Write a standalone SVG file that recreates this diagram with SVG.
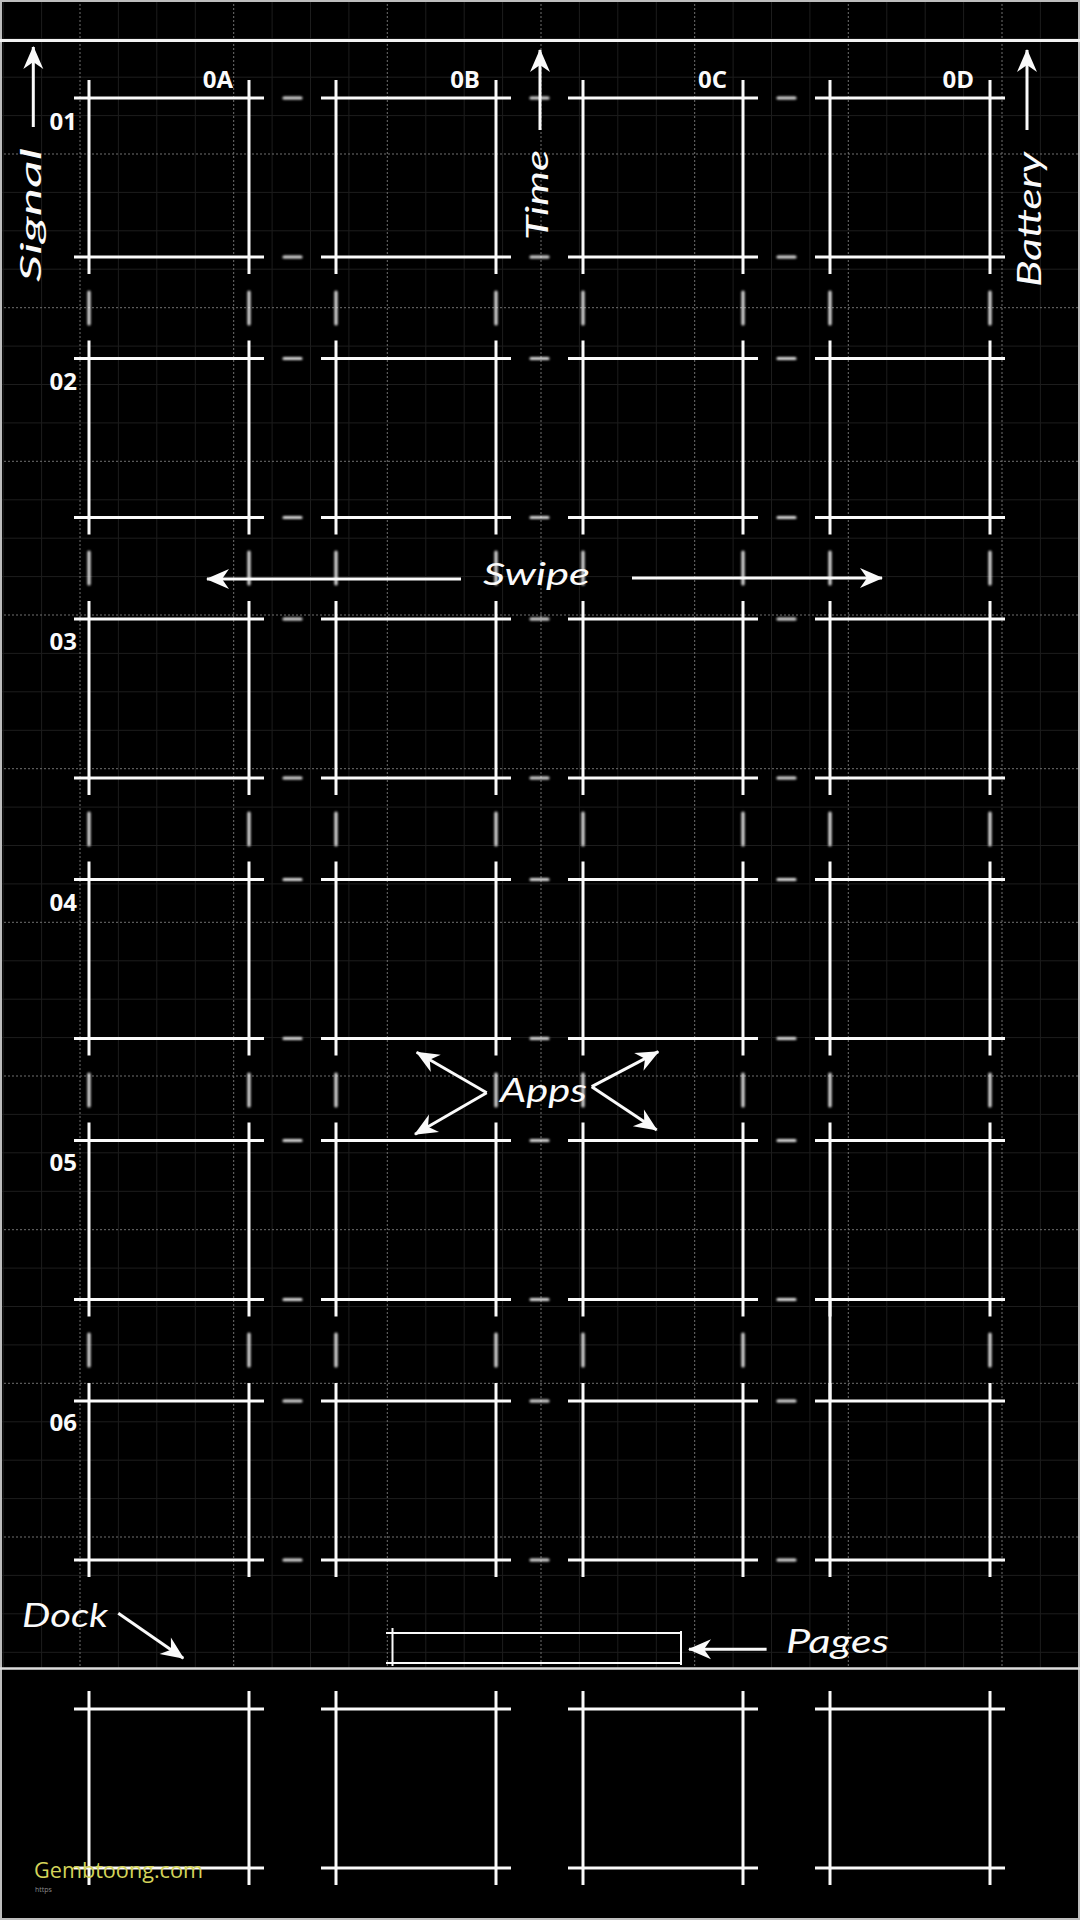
<svg xmlns="http://www.w3.org/2000/svg" xmlns:xlink="http://www.w3.org/1999/xlink" width="1080" height="1920" viewBox="0 0 1080 1920">
<style>
.bg{fill:#000}
.minor{stroke:#1d1d1d;stroke-width:1;fill:none}
.major{stroke:#707070;stroke-width:1;stroke-dasharray:2 2;fill:none}
.frame{stroke:#bdbdbd;stroke-width:2;fill:none}
.rule{stroke:#f2f2f2;stroke-width:3;fill:none}
.box{stroke:#fafafa;stroke-width:3;fill:none}
.gap{stroke:#f4f4f4;stroke-width:3.2;stroke-linecap:round;fill:none;opacity:0.9}
.conn{stroke:#fafafa;stroke-width:3;fill:none}
.lbl{font-family:"Open Sans","DejaVu Sans",sans-serif;font-weight:700;font-size:24px;fill:#fafafa}
.hand{font-family:"Lato","DejaVu Sans",sans-serif;font-style:italic;fill:#fafafa}
.wm{font-family:"Open Sans","DejaVu Sans",sans-serif;font-size:21px;fill:#d4d45a}
</style>
<defs>
<path id="box" d="M-15 0H175M-15 159H175M0 -18V176M160 -18V176"/>
<marker id="ah" viewBox="-24 -12 26 24" refX="0" refY="0" markerWidth="26" markerHeight="24" markerUnits="userSpaceOnUse" orient="auto">
<path d="M1 0L-22 -10L-15 0L-22 10Z" fill="#fafafa"/>
</marker>
<filter id="soft" x="-20%" y="-20%" width="140%" height="140%"><feGaussianBlur stdDeviation="1.2"/></filter>
</defs>
<rect class="bg" x="0" y="0" width="1080" height="1920"/>
<g id="grid">
<path class="minor" d="M3.2 0V1668M41.6 0V1668M118.4 0V1668M156.8 0V1668M195.3 0V1668M272.1 0V1668M310.5 0V1668M348.9 0V1668M425.8 0V1668M464.2 0V1668M502.6 0V1668M579.4 0V1668M617.8 0V1668M656.3 0V1668M733.1 0V1668M771.5 0V1668M809.9 0V1668M886.8 0V1668M925.2 0V1668M963.6 0V1668M1040.4 0V1668M0 38.8H1080M0 77.2H1080M0 115.6H1080M0 192.4H1080M0 230.8H1080M0 269.2H1080M0 346.1H1080M0 384.5H1080M0 422.9H1080M0 499.8H1080M0 538.2H1080M0 576.6H1080M0 653.4H1080M0 691.8H1080M0 730.3H1080M0 807.1H1080M0 845.5H1080M0 883.9H1080M0 960.8H1080M0 999.2H1080M0 1037.6H1080M0 1114.4H1080M0 1152.8H1080M0 1191.3H1080M0 1268.1H1080M0 1306.5H1080M0 1344.9H1080M0 1421.8H1080M0 1460.2H1080M0 1498.6H1080M0 1575.4H1080M0 1613.8H1080M0 1652.3H1080"/>
<path class="major" d="M80 0V1668M233.7 0V1668M387.3 0V1668M541 0V1668M694.7 0V1668M848.3 0V1668M1002 0V1668M0 154H1080M0 307.7H1080M0 461.3H1080M0 615H1080M0 768.7H1080M0 922.3H1080M0 1076H1080M0 1229.7H1080M0 1383.3H1080M0 1537H1080"/>
</g>
<g id="frame">
<rect class="frame" x="1" y="1" width="1078" height="1918"/>
<path class="rule" d="M0 40.5H1080"/>
<path class="rule" style="stroke:#dcdcdc;stroke-width:2.5" d="M0 1668.5H1080"/>
</g>
<g id="column-labels">
<text class="lbl" x="233" y="88" text-anchor="end">0A</text>
<text class="lbl" x="480" y="88" text-anchor="end">0B</text>
<text class="lbl" x="727" y="88" text-anchor="end">0C</text>
<text class="lbl" x="974" y="88" text-anchor="end">0D</text>
</g>
<g id="row-labels">
<text class="lbl" x="77" y="130" text-anchor="end">01</text>
<text class="lbl" x="77" y="390" text-anchor="end">02</text>
<text class="lbl" x="77" y="650" text-anchor="end">03</text>
<text class="lbl" x="77" y="911" text-anchor="end">04</text>
<text class="lbl" x="77" y="1171" text-anchor="end">05</text>
<text class="lbl" x="77" y="1431" text-anchor="end">06</text>
</g>
<g id="app-01-0A"><use href="#box" class="box" x="89" y="98"/></g>
<g id="app-01-0B"><use href="#box" class="box" x="336" y="98"/></g>
<g id="app-01-0C"><use href="#box" class="box" x="583" y="98"/></g>
<g id="app-01-0D"><use href="#box" class="box" x="830" y="98"/></g>
<g id="app-02-0A"><use href="#box" class="box" x="89" y="358.5"/></g>
<g id="app-02-0B"><use href="#box" class="box" x="336" y="358.5"/></g>
<g id="app-02-0C"><use href="#box" class="box" x="583" y="358.5"/></g>
<g id="app-02-0D"><use href="#box" class="box" x="830" y="358.5"/></g>
<g id="app-03-0A"><use href="#box" class="box" x="89" y="619"/></g>
<g id="app-03-0B"><use href="#box" class="box" x="336" y="619"/></g>
<g id="app-03-0C"><use href="#box" class="box" x="583" y="619"/></g>
<g id="app-03-0D"><use href="#box" class="box" x="830" y="619"/></g>
<g id="app-04-0A"><use href="#box" class="box" x="89" y="879.5"/></g>
<g id="app-04-0B"><use href="#box" class="box" x="336" y="879.5"/></g>
<g id="app-04-0C"><use href="#box" class="box" x="583" y="879.5"/></g>
<g id="app-04-0D"><use href="#box" class="box" x="830" y="879.5"/></g>
<g id="app-05-0A"><use href="#box" class="box" x="89" y="1140.5"/></g>
<g id="app-05-0B"><use href="#box" class="box" x="336" y="1140.5"/></g>
<g id="app-05-0C"><use href="#box" class="box" x="583" y="1140.5"/></g>
<g id="app-05-0D"><use href="#box" class="box" x="830" y="1140.5"/></g>
<g id="app-06-0A"><use href="#box" class="box" x="89" y="1401"/></g>
<g id="app-06-0B"><use href="#box" class="box" x="336" y="1401"/></g>
<g id="app-06-0C"><use href="#box" class="box" x="583" y="1401"/></g>
<g id="app-06-0D"><use href="#box" class="box" x="830" y="1401"/></g>
<g id="dock-1"><use href="#box" class="box" x="89" y="1709"/></g>
<g id="dock-2"><use href="#box" class="box" x="336" y="1709"/></g>
<g id="dock-3"><use href="#box" class="box" x="583" y="1709"/></g>
<g id="dock-4"><use href="#box" class="box" x="830" y="1709"/></g>
<g id="gap-marks">
<path class="gap" filter="url(#soft)" d="M284 98H301M531 98H548M778 98H795M284 257H301M531 257H548M778 257H795M284 358.5H301M531 358.5H548M778 358.5H795M284 517.5H301M531 517.5H548M778 517.5H795M284 619H301M531 619H548M778 619H795M284 778H301M531 778H548M778 778H795M284 879.5H301M531 879.5H548M778 879.5H795M284 1038.5H301M531 1038.5H548M778 1038.5H795M284 1140.5H301M531 1140.5H548M778 1140.5H795M284 1299.5H301M531 1299.5H548M778 1299.5H795M284 1401H301M531 1401H548M778 1401H795M284 1560H301M531 1560H548M778 1560H795"/>
<path class="gap" filter="url(#soft)" d="M89 292V324M249 292V324M336 292V324M496 292V324M583 292V324M743 292V324M830 292V324M990 292V324M89 552V584M249 552V584M336 552V584M496 552V584M583 552V584M743 552V584M830 552V584M990 552V584M89 813V845M249 813V845M336 813V845M496 813V845M583 813V845M743 813V845M830 813V845M990 813V845M89 1074V1106M249 1074V1106M336 1074V1106M496 1074V1106M583 1074V1106M743 1074V1106M830 1074V1106M990 1074V1106M89 1334V1366M249 1334V1366M336 1334V1366M496 1334V1366M583 1334V1366M743 1334V1366M990 1334V1366"/>
<path class="box" d="M830 1299.5V1401"/>
</g>
<g id="pages-indicator">
<path class="box" style="stroke-width:2" d="M386 1633H681M386 1663H681M392.5 1628V1666M681 1631V1665"/>
</g>
<g id="connectors">
<path class="conn" marker-end="url(#ah)" d="M33.3 127V47"/>
<path class="conn" marker-end="url(#ah)" d="M540 130V50"/>
<path class="conn" marker-end="url(#ah)" d="M1027 130V50"/>
<path class="conn" marker-end="url(#ah)" d="M461 579H207"/>
<path class="conn" marker-end="url(#ah)" d="M632 578H882"/>
<path class="conn" marker-end="url(#ah)" d="M486.7 1092.7L416.7 1052.3"/>
<path class="conn" marker-end="url(#ah)" d="M486.7 1092.7L415 1134.3"/>
<path class="conn" marker-end="url(#ah)" d="M591.7 1086.7L658.3 1051.7"/>
<path class="conn" marker-end="url(#ah)" d="M591.7 1086.7L656.7 1130"/>
<path class="conn" marker-end="url(#ah)" d="M118.3 1613.3L183.3 1658.3"/>
<path class="conn" marker-end="url(#ah)" d="M766.6 1649.3H689"/>
</g>
<g id="annotations">
<text class="hand" font-size="28" transform="translate(41 282) rotate(-90)" textLength="134" lengthAdjust="spacingAndGlyphs">Signal</text>
<text class="hand" font-size="30" transform="translate(548 240) rotate(-90)" textLength="90" lengthAdjust="spacingAndGlyphs">Time</text>
<text class="hand" font-size="33" transform="translate(1041 287) rotate(-90)" textLength="135" lengthAdjust="spacingAndGlyphs">Battery</text>
<text class="hand" font-size="30" x="483" y="585" textLength="107" lengthAdjust="spacingAndGlyphs">Swipe</text>
<text class="hand" font-size="32" x="500" y="1102" textLength="87" lengthAdjust="spacingAndGlyphs">Apps</text>
<text class="hand" font-size="32" x="22" y="1627" textLength="86" lengthAdjust="spacingAndGlyphs">Dock</text>
<text class="hand" font-size="32" x="786" y="1653" textLength="103" lengthAdjust="spacingAndGlyphs">Pages</text>
</g>
<g id="watermark">
<text class="wm" x="34" y="1878" textLength="169" lengthAdjust="spacingAndGlyphs">Gembtoong.com</text>
<text x="35" y="1892" font-family="Open Sans, sans-serif" font-size="7" fill="#8a8a8a">https</text>
</g>
</svg>
